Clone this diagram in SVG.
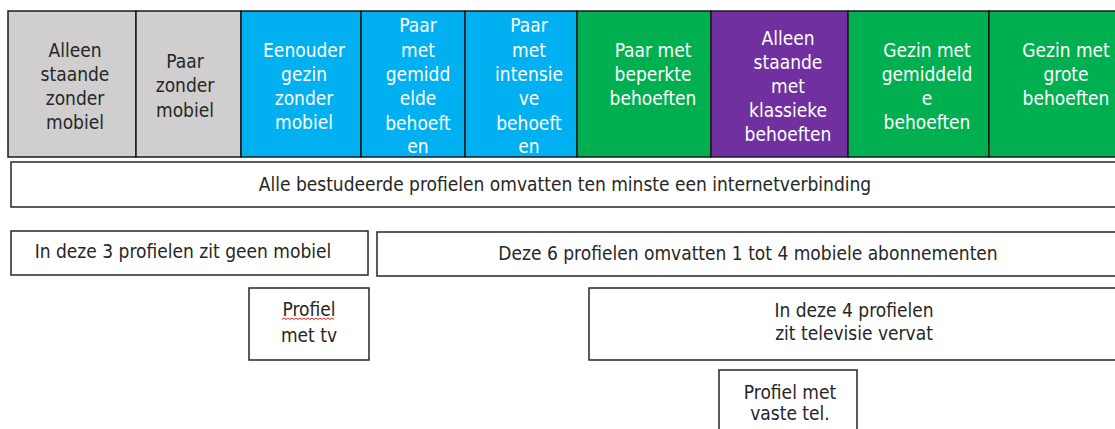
<svg xmlns="http://www.w3.org/2000/svg" width="1115" height="429" viewBox="0 0 1115 429">
<style>
  text { font-family: "DejaVu Sans Condensed", "DejaVu Sans", sans-serif; font-stretch: condensed; font-size: 19px; text-anchor: middle; }
  .dk { fill: #262626; }
  .wt { fill: #ffffff; }
  .cell { stroke: #1a1a1a; stroke-width: 1.5; }
  .gray { fill: #D0CECE; }
  .blue { fill: #00B0F0; }
  .green { fill: #00B050; }
  .purple { fill: #7030A0; }
  .box { fill: #ffffff; stroke: #262626; stroke-width: 1.5; }
</style>
<rect width="1115" height="429" fill="#ffffff"/>

<g id="cell-alleenstaande-zonder-mobiel">
  <rect class="cell gray" x="8" y="11" width="128" height="146"/>
  <text class="dk" x="75"><tspan x="75" y="57">Alleen</tspan><tspan x="75" y="81">staande</tspan><tspan x="75" y="105">zonder</tspan><tspan x="75" y="129">mobiel</tspan></text>
</g>
<g id="cell-paar-zonder-mobiel">
  <rect class="cell gray" x="136" y="11" width="105" height="146"/>
  <text class="dk"><tspan x="185" y="68">Paar</tspan><tspan x="185" y="92">zonder</tspan><tspan x="185" y="117">mobiel</tspan></text>
</g>
<g id="cell-eenoudergezin-zonder-mobiel">
  <rect class="cell blue" x="241" y="11" width="120" height="146"/>
  <text class="wt"><tspan x="304" y="57">Eenouder</tspan><tspan x="304" y="81">gezin</tspan><tspan x="304" y="105">zonder</tspan><tspan x="304" y="129">mobiel</tspan></text>
</g>
<g id="cell-paar-gemiddelde-behoeften">
  <rect class="cell blue" x="361" y="11" width="104" height="146"/>
  <text class="wt"><tspan x="418" y="32">Paar</tspan><tspan x="418" y="57">met</tspan><tspan x="418" y="81">gemidd</tspan><tspan x="418" y="105">elde</tspan><tspan x="418" y="130">behoeft</tspan><tspan x="418" y="153">en</tspan></text>
</g>
<g id="cell-paar-intensieve-behoeften">
  <rect class="cell blue" x="465" y="11" width="112" height="146"/>
  <text class="wt"><tspan x="529" y="32">Paar</tspan><tspan x="529" y="57">met</tspan><tspan x="529" y="81">intensie</tspan><tspan x="529" y="105">ve</tspan><tspan x="529" y="130">behoeft</tspan><tspan x="529" y="153">en</tspan></text>
</g>
<g id="cell-paar-beperkte-behoeften">
  <rect class="cell green" x="577" y="11" width="134" height="146"/>
  <text class="wt"><tspan x="653" y="57">Paar met</tspan><tspan x="653" y="81">beperkte</tspan><tspan x="653" y="105">behoeften</tspan></text>
</g>
<g id="cell-alleenstaande-klassieke-behoeften">
  <rect class="cell purple" x="711" y="11" width="137" height="146"/>
  <text class="wt"><tspan x="788" y="45">Alleen</tspan><tspan x="788" y="69">staande</tspan><tspan x="788" y="93">met</tspan><tspan x="788" y="117">klassieke</tspan><tspan x="788" y="141">behoeften</tspan></text>
</g>
<g id="cell-gezin-gemiddelde-behoeften">
  <rect class="cell green" x="848" y="11" width="141" height="146"/>
  <text class="wt"><tspan x="927" y="57">Gezin met</tspan><tspan x="927" y="81">gemiddeld</tspan><tspan x="927" y="105">e</tspan><tspan x="927" y="129">behoeften</tspan></text>
</g>
<g id="cell-gezin-grote-behoeften">
  <rect class="cell green" x="989" y="11" width="140" height="146"/>
  <text class="wt"><tspan x="1066" y="57">Gezin met</tspan><tspan x="1066" y="81">grote</tspan><tspan x="1066" y="105">behoeften</tspan></text>
</g>

<g id="box-internet">
  <rect class="box" x="11" y="162" width="1120" height="45"/>
  <text class="dk" x="565" y="191">Alle bestudeerde profielen omvatten ten minste een internetverbinding</text>
</g>
<g id="box-geen-mobiel">
  <rect class="box" x="11" y="231" width="357" height="44"/>
  <text class="dk" x="183" y="258">In deze 3 profielen zit geen mobiel</text>
</g>
<g id="box-mobiele-abonnementen">
  <rect class="box" x="377" y="232" width="760" height="44"/>
  <text class="dk" x="748" y="260">Deze 6 profielen omvatten 1 tot 4 mobiele abonnementen</text>
</g>
<g id="box-profiel-met-tv">
  <rect class="box" x="249" y="288" width="120" height="72"/>
  <text class="dk"><tspan x="309" y="316">Profiel</tspan><tspan x="309" y="342">met tv</tspan></text>
  <path d="M282 319.5 l2 -1.5 l2 1.5 l2 -1.5 l2 1.5 l2 -1.5 l2 1.5 l2 -1.5 l2 1.5 l2 -1.5 l2 1.5 l2 -1.5 l2 1.5 l2 -1.5 l2 1.5 l2 -1.5 l2 1.5 l2 -1.5 l2 1.5 l2 -1.5 l2 1.5 l2 -1.5 l2 1.5 l2 -1.5 l2 1.5 l2 -1.5 l2 1.5" fill="none" stroke="#e02020" stroke-width="1"/>
</g>
<g id="box-televisie">
  <rect class="box" x="589" y="288" width="540" height="72"/>
  <text class="dk"><tspan x="854" y="317">In deze 4 profielen</tspan><tspan x="854" y="340">zit televisie vervat</tspan></text>
</g>
<g id="box-vaste-tel">
  <rect class="box" x="719" y="370" width="138" height="70"/>
  <text class="dk"><tspan x="790" y="399">Profiel met</tspan><tspan x="790" y="420">vaste tel.</tspan></text>
</g>
</svg>
